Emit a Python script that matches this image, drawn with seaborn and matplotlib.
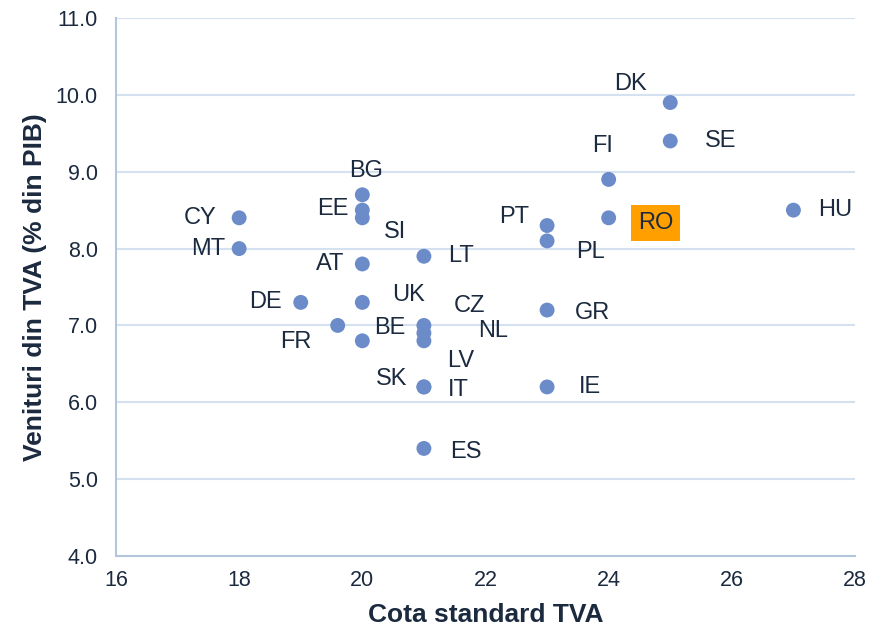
"""Venituri din TVA vs cota standard TVA, state UE."""

import matplotlib.pyplot as plt
import pandas as pd
import seaborn as sns

countries = ["DK", "SE", "FI", "RO", "HU", "PT", "PL", "GR", "IE", "BG",
             "EE", "SI", "CY", "MT", "AT", "LT", "DE", "UK", "FR", "BE",
             "CZ", "NL", "LV", "SK", "IT", "ES"]
vat_rate = [25, 25, 24, 24, 27, 23, 23, 23, 23, 20,
            20, 20, 18, 18, 20, 21, 19, 20, 19.6, 20,
            21, 21, 21, 21, 21, 21]
vat_revenue = [9.9, 9.4, 8.9, 8.4, 8.5, 8.3, 8.1, 7.2, 6.2, 8.7,
               8.5, 8.4, 8.4, 8.0, 7.8, 7.9, 7.3, 7.3, 7.0, 6.8,
               7.0, 6.9, 6.8, 6.2, 6.2, 5.4]

x_ticks = [16, 18, 20, 22, 24, 26, 28]
y_ticks = [4.0, 5.0, 6.0, 7.0, 8.0, 9.0, 10.0, 11.0]

# label offsets from each point, in pixels
label_offsets = {
    "DK": (-40, 19), "SE": (50, 0), "FI": (-6, 33), "RO": (47, -5),
    "HU": (42, 0), "PT": (-33, 9), "PL": (43, -11), "GR": (45, -3),
    "IE": (43, 0), "BG": (4, 24), "EE": (-29, 1), "SI": (33, -14),
    "CY": (-39, 0), "MT": (-31, 0), "AT": (-32, 0), "LT": (37, 0),
    "DE": (-35, 0), "UK": (46, 7), "FR": (-42, -17), "BE": (27, 13),
    "CZ": (46, 19), "NL": (69, 2), "LV": (37, -20), "SK": (-32, 8),
    "IT": (34, -3), "ES": (42, -4),
}

df = pd.DataFrame({"tara": countries, "cota": vat_rate, "venit": vat_revenue})

sns.set_style("white")
plt.rcParams["font.family"] = ["Liberation Sans", "DejaVu Sans"]

TEXT = "#1B2A3E"
DOT = "#6B8BC9"
GRID = "#D3E1F0"
AXIS = "#B3C6DB"

fig = plt.figure(figsize=(8.8, 6.29), dpi=100)
ax = fig.add_axes([0.1318, 0.116, 0.8398, 0.8554])

sns.scatterplot(data=df, x="cota", y="venit", color=DOT, s=115,
                edgecolor="none", ax=ax, zorder=3)

for name, xv, yv in zip(countries, vat_rate, vat_revenue):
    dx, dy = label_offsets[name]
    bbox = None
    if name == "RO":
        bbox = dict(boxstyle="square,pad=0.3", facecolor="#FFA000",
                    edgecolor="none")
    ax.annotate(name, (xv, yv), xytext=(dx, dy), textcoords="offset pixels",
                ha="center", va="center", fontsize=17, color=TEXT,
                bbox=bbox, zorder=4)

ax.set_xlim(16, 28)
ax.set_ylim(4.0, 11.0)
ax.set_xticks(x_ticks)
ax.set_yticks(y_ticks)
ax.set_xticklabels([str(t) for t in x_ticks])
ax.set_yticklabels([f"{t:.1f}" for t in y_ticks])
ax.tick_params(axis="both", length=0, labelsize=15.5, colors=TEXT)
ax.tick_params(axis="y", pad=13)
ax.tick_params(axis="x", pad=10)

ax.grid(axis="y", color=GRID, linewidth=1.5)
ax.grid(axis="x", visible=False)
ax.set_axisbelow(True)
for side in ["top", "right"]:
    ax.spines[side].set_visible(False)
for side in ["left", "bottom"]:
    ax.spines[side].set_color(AXIS)
    ax.spines[side].set_linewidth(1.5)

ax.set_xlabel("Cota standard TVA", fontsize=19, fontweight="bold",
              color=TEXT, labelpad=9)
ax.set_ylabel("Venituri din TVA (% din PIB)", fontsize=19, fontweight="bold",
              color=TEXT, labelpad=6)

fig.savefig("out.png", dpi=100)
